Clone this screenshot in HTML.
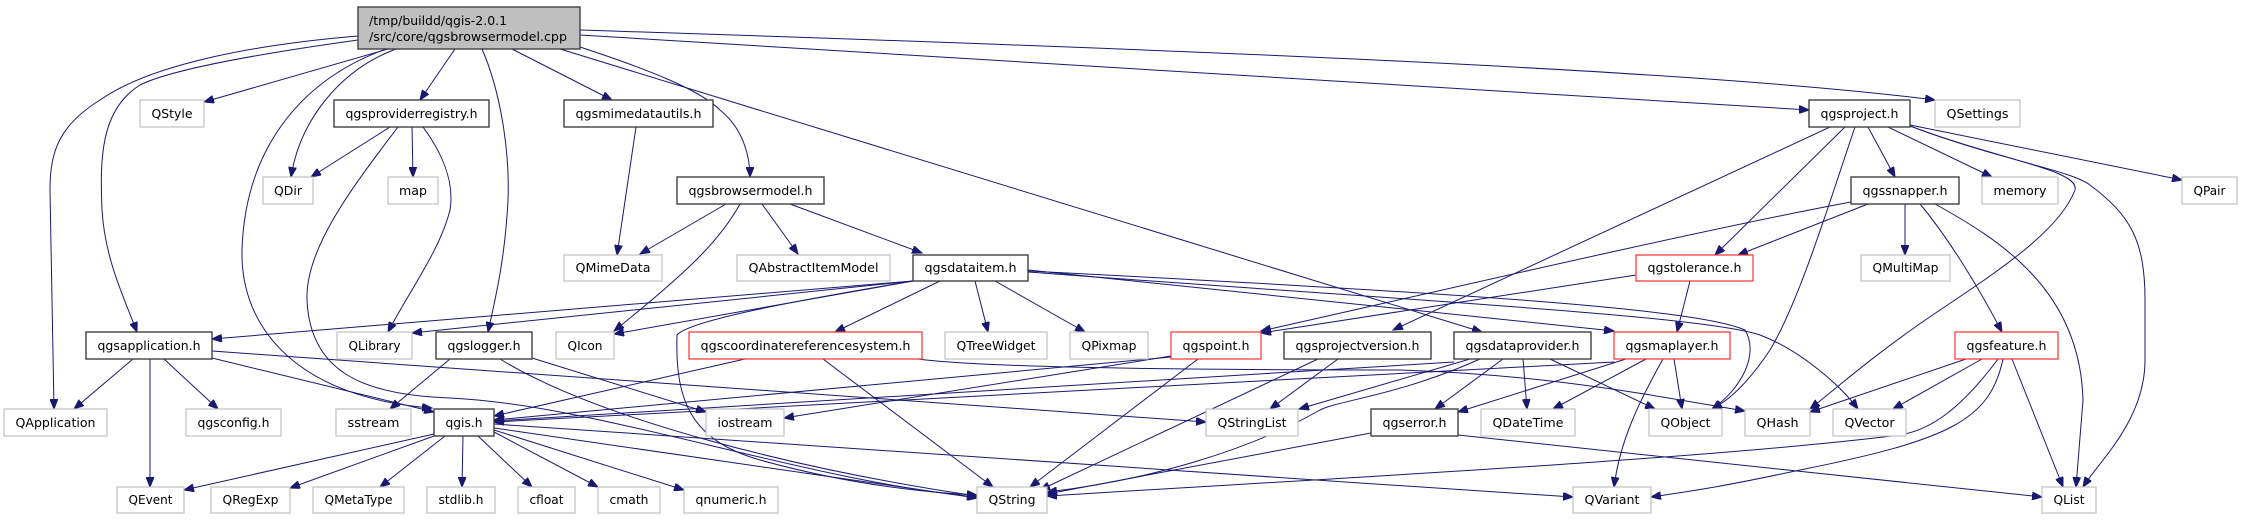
<!DOCTYPE html>
<html><head><meta charset="utf-8"><style>
html,body{margin:0;padding:0;background:#fff;}
svg{display:block;}
text{font-family:"DejaVu Sans","Liberation Sans",sans-serif;font-size:12px;fill:#000;}
.g{fill:#fff;stroke:#c0c0c0;stroke-width:1.2;}
.b{fill:#fff;stroke:#404040;stroke-width:1.4;}
.r{fill:#fff;stroke:#ff3030;stroke-width:1.2;}
.e{fill:none;stroke:#191970;stroke-width:1;marker-end:url(#a);}
</style></head><body>
<svg width="2241" height="520" viewBox="0 0 2241 520" xmlns="http://www.w3.org/2000/svg">
<defs><marker id="a" markerUnits="userSpaceOnUse" markerWidth="11" markerHeight="8" refX="10" refY="4" orient="auto"><path d="M0,0 L10,4 L0,8 z" fill="#191970" stroke="#191970"/></marker></defs>
<g>
<path class="e" d="M358,36 C250,45 150,65 100,100 C60,125 50,150 50,190 L54,409"/>
<path class="e" d="M358,40 C250,55 170,70 140,85 C100,110 100,160 102,210 C105,260 125,300 137,332"/>
<path class="e" d="M388,49 L204,102"/>
<path class="e" d="M396,49 C340,70 300,120 291,177"/>
<path class="e" d="M386,49 C300,80 245,150 242,250 C240,330 300,398 432,408"/>
<path class="e" d="M398,127 C350,190 305,250 307,300 C310,370 360,395 450,398 C600,405 800,480 977,497"/>
<path class="e" d="M390,127 L311,177"/>
<path class="e" d="M412,127 L413,177"/>
<path class="e" d="M423,127 C440,150 455,180 450,210 C440,250 410,290 388,332"/>
<path class="e" d="M455,49 L420,100"/>
<path class="e" d="M482,49 C500,90 510,150 508,200 C505,260 495,300 488,332"/>
<path class="e" d="M512,49 L612,100"/>
<path class="e" d="M580,47 C650,70 700,90 720,110 C745,130 750,160 750,177"/>
<path class="e" d="M560,49 L1482,332"/>
<path class="e" d="M580,35 L1809,110"/>
<path class="e" d="M580,30 C1200,50 1700,70 1935,100"/>
<path class="e" d="M636,127 L617,255"/>
<path class="e" d="M726,204 L640,254"/>
<path class="e" d="M740,204 C720,240 690,270 614,331"/>
<path class="e" d="M762,204 L798,254"/>
<path class="e" d="M790,204 L922,253"/>
<path class="e" d="M913,281 L212,339"/>
<path class="e" d="M913,281 L412,333"/>
<path class="e" d="M913,281 L614,334"/>
<path class="e" d="M913,281 C800,300 690,320 677,335 C675,400 690,440 760,460 C850,485 930,493 977,495"/>
<path class="e" d="M940,281 L835,332"/>
<path class="e" d="M975,281 L988,332"/>
<path class="e" d="M995,281 L1085,332"/>
<path class="e" d="M1028,270 L1614,331"/>
<path class="e" d="M1028,271 C1500,295 1700,310 1745,330 C1760,355 1740,390 1712,409"/>
<path class="e" d="M1028,272 C1400,300 1700,315 1760,335 C1800,350 1840,385 1858,409"/>
<path class="e" d="M745,359 L494,416"/>
<path class="e" d="M823,359 L993,487"/>
<path class="e" d="M918,359 C1000,370 1300,370 1400,370 C1550,375 1650,395 1745,411"/>
<path class="e" d="M133,359 L74,409"/>
<path class="e" d="M150,359 L150,487"/>
<path class="e" d="M164,359 L218,409"/>
<path class="e" d="M212,358 L434,412"/>
<path class="e" d="M212,351 L1206,422"/>
<path class="e" d="M450,359 L390,409"/>
<path class="e" d="M500,359 C600,420 800,470 977,496"/>
<path class="e" d="M532,358 L706,412"/>
<path class="e" d="M434,434 L184,490"/>
<path class="e" d="M434,436 L290,488"/>
<path class="e" d="M445,436 L380,487"/>
<path class="e" d="M463,436 L462,487"/>
<path class="e" d="M478,436 L532,487"/>
<path class="e" d="M494,432 L598,487"/>
<path class="e" d="M494,430 L684,490"/>
<path class="e" d="M494,428 L977,498"/>
<path class="e" d="M494,424 L1360,483 L1573,497"/>
<path class="e" d="M1171,357 L494,420"/>
<path class="e" d="M1171,356 L784,418"/>
<path class="e" d="M1198,359 L1030,487"/>
<path class="e" d="M1338,359 L1270,409"/>
<path class="e" d="M1318,359 L1040,490"/>
<path class="e" d="M1454,362 L494,421"/>
<path class="e" d="M1470,359 L1299,409"/>
<path class="e" d="M1480,359 C1400,395 1340,400 1320,410 C1250,450 1150,480 1047,492"/>
<path class="e" d="M1503,359 L1435,409"/>
<path class="e" d="M1523,359 L1527,409"/>
<path class="e" d="M1550,359 L1655,409"/>
<path class="e" d="M1371,433 L1047,494"/>
<path class="e" d="M1458,435 L2042,497"/>
<path class="e" d="M1614,362 L494,422"/>
<path class="e" d="M1626,359 L1458,412"/>
<path class="e" d="M1646,359 L1553,409"/>
<path class="e" d="M1663,359 C1640,400 1620,440 1614,487"/>
<path class="e" d="M1674,359 L1682,409"/>
<path class="e" d="M1966,359 L1810,412"/>
<path class="e" d="M1982,359 L1893,409"/>
<path class="e" d="M1998,359 C1960,410 1930,430 1900,435 C1700,460 1300,480 1047,496"/>
<path class="e" d="M2003,359 C1990,420 1950,440 1800,470 C1730,485 1700,490 1651,497"/>
<path class="e" d="M2012,359 L2063,487"/>
<path class="e" d="M1830,127 L1393,330"/>
<path class="e" d="M1845,127 L1715,255"/>
<path class="e" d="M1855,127 C1830,200 1800,300 1770,350 C1750,380 1730,400 1712,409"/>
<path class="e" d="M1868,127 L1895,177"/>
<path class="e" d="M1888,127 L1992,177"/>
<path class="e" d="M1910,125 L2182,180"/>
<path class="e" d="M1910,126 C2000,160 2080,170 2075,190 C2060,230 2000,270 1940,310 C1880,350 1840,385 1810,409"/>
<path class="e" d="M1910,126 C2000,160 2070,170 2090,185 C2130,215 2145,240 2145,300 L2145,360 C2145,420 2100,460 2083,487"/>
<path class="e" d="M1868,204 L1738,255"/>
<path class="e" d="M1851,202 C1700,230 1400,300 1261,331"/>
<path class="e" d="M1905,204 L1905,255"/>
<path class="e" d="M1920,204 C1950,240 1980,290 2002,332"/>
<path class="e" d="M1935,204 C2000,240 2080,290 2083,400 L2076,487"/>
<path class="e" d="M1636,275 L1261,333"/>
<path class="e" d="M1690,281 L1677,332"/>
</g>
<g>
<rect x="358" y="7" width="222" height="42" fill="#bfbfbf" stroke="#404040" stroke-width="1.4"/>
<text x="369" y="25" textLength="138" lengthAdjust="spacingAndGlyphs">/tmp/buildd/qgis-2.0.1</text>
<text x="369" y="41" textLength="198" lengthAdjust="spacingAndGlyphs">/src/core/qgsbrowsermodel.cpp</text>

<rect class="g" x="140" y="100" width="64" height="27"/><text x="172" y="118" text-anchor="middle" textLength="41" lengthAdjust="spacingAndGlyphs">QStyle</text>
<rect class="b" x="334" y="100" width="155" height="27"/><text x="411.5" y="118" text-anchor="middle" textLength="132" lengthAdjust="spacingAndGlyphs">qgsproviderregistry.h</text>
<rect class="b" x="564" y="100" width="149" height="27"/><text x="638.5" y="118" text-anchor="middle" textLength="126" lengthAdjust="spacingAndGlyphs">qgsmimedatautils.h</text>
<rect class="b" x="1809" y="100" width="101" height="27"/><text x="1859.5" y="118" text-anchor="middle" textLength="78" lengthAdjust="spacingAndGlyphs">qgsproject.h</text>
<rect class="g" x="1935" y="100" width="85" height="27"/><text x="1977.5" y="118" text-anchor="middle" textLength="62" lengthAdjust="spacingAndGlyphs">QSettings</text>

<rect class="g" x="263" y="177" width="50" height="27"/><text x="288" y="195" text-anchor="middle" textLength="28" lengthAdjust="spacingAndGlyphs">QDir</text>
<rect class="g" x="388" y="177" width="50" height="27"/><text x="413" y="195" text-anchor="middle" textLength="28" lengthAdjust="spacingAndGlyphs">map</text>
<rect class="b" x="677" y="177" width="147" height="27"/><text x="750.5" y="195" text-anchor="middle" textLength="124" lengthAdjust="spacingAndGlyphs">qgsbrowsermodel.h</text>
<rect class="b" x="1851" y="177" width="108" height="27"/><text x="1905" y="195" text-anchor="middle" textLength="85" lengthAdjust="spacingAndGlyphs">qgssnapper.h</text>
<rect class="g" x="1982" y="177" width="76" height="27"/><text x="2020" y="195" text-anchor="middle" textLength="53" lengthAdjust="spacingAndGlyphs">memory</text>
<rect class="g" x="2182" y="177" width="55" height="27"/><text x="2209.5" y="195" text-anchor="middle" textLength="32" lengthAdjust="spacingAndGlyphs">QPair</text>

<rect class="g" x="564" y="255" width="98" height="26"/><text x="613" y="272" text-anchor="middle" textLength="75" lengthAdjust="spacingAndGlyphs">QMimeData</text>
<rect class="g" x="737" y="255" width="153" height="26"/><text x="813.5" y="272" text-anchor="middle" textLength="130" lengthAdjust="spacingAndGlyphs">QAbstractItemModel</text>
<rect class="b" x="913" y="255" width="115" height="26"/><text x="970.5" y="272" text-anchor="middle" textLength="92" lengthAdjust="spacingAndGlyphs">qgsdataitem.h</text>
<rect class="r" x="1636" y="255" width="117" height="26"/><text x="1694.5" y="272" text-anchor="middle" textLength="94" lengthAdjust="spacingAndGlyphs">qgstolerance.h</text>
<rect class="g" x="1861" y="255" width="89" height="26"/><text x="1905.5" y="272" text-anchor="middle" textLength="66" lengthAdjust="spacingAndGlyphs">QMultiMap</text>

<rect class="b" x="86" y="332" width="126" height="27"/><text x="149" y="350" text-anchor="middle" textLength="103" lengthAdjust="spacingAndGlyphs">qgsapplication.h</text>
<rect class="g" x="337" y="332" width="75" height="27"/><text x="374.5" y="350" text-anchor="middle" textLength="52" lengthAdjust="spacingAndGlyphs">QLibrary</text>
<rect class="b" x="436" y="332" width="96" height="27"/><text x="484" y="350" text-anchor="middle" textLength="73" lengthAdjust="spacingAndGlyphs">qgslogger.h</text>
<rect class="g" x="556" y="332" width="58" height="27"/><text x="585" y="350" text-anchor="middle" textLength="35" lengthAdjust="spacingAndGlyphs">QIcon</text>
<rect class="r" x="689" y="332" width="233" height="27"/><text x="805.5" y="350" text-anchor="middle" textLength="210" lengthAdjust="spacingAndGlyphs">qgscoordinatereferencesystem.h</text>
<rect class="g" x="945" y="332" width="102" height="27"/><text x="996" y="350" text-anchor="middle" textLength="79" lengthAdjust="spacingAndGlyphs">QTreeWidget</text>
<rect class="g" x="1070" y="332" width="78" height="27"/><text x="1109" y="350" text-anchor="middle" textLength="55" lengthAdjust="spacingAndGlyphs">QPixmap</text>
<rect class="r" x="1171" y="332" width="90" height="27"/><text x="1216" y="350" text-anchor="middle" textLength="67" lengthAdjust="spacingAndGlyphs">qgspoint.h</text>
<rect class="b" x="1284" y="332" width="147" height="27"/><text x="1357.5" y="350" text-anchor="middle" textLength="124" lengthAdjust="spacingAndGlyphs">qgsprojectversion.h</text>
<rect class="b" x="1454" y="332" width="137" height="27"/><text x="1522.5" y="350" text-anchor="middle" textLength="114" lengthAdjust="spacingAndGlyphs">qgsdataprovider.h</text>
<rect class="r" x="1614" y="332" width="116" height="27"/><text x="1672" y="350" text-anchor="middle" textLength="93" lengthAdjust="spacingAndGlyphs">qgsmaplayer.h</text>
<rect class="r" x="1955" y="332" width="103" height="27"/><text x="2006.5" y="350" text-anchor="middle" textLength="80" lengthAdjust="spacingAndGlyphs">qgsfeature.h</text>

<rect class="g" x="4" y="409" width="103" height="27"/><text x="55.5" y="427" text-anchor="middle" textLength="80" lengthAdjust="spacingAndGlyphs">QApplication</text>
<rect class="g" x="186" y="409" width="95" height="27"/><text x="233.5" y="427" text-anchor="middle" textLength="72" lengthAdjust="spacingAndGlyphs">qgsconfig.h</text>
<rect class="g" x="336" y="409" width="75" height="27"/><text x="373.5" y="427" text-anchor="middle" textLength="52" lengthAdjust="spacingAndGlyphs">sstream</text>
<rect class="b" x="434" y="409" width="60" height="27"/><text x="464" y="427" text-anchor="middle" textLength="37" lengthAdjust="spacingAndGlyphs">qgis.h</text>
<rect class="g" x="706" y="409" width="78" height="27"/><text x="745" y="427" text-anchor="middle" textLength="55" lengthAdjust="spacingAndGlyphs">iostream</text>
<rect class="g" x="1206" y="409" width="92" height="27"/><text x="1252" y="427" text-anchor="middle" textLength="69" lengthAdjust="spacingAndGlyphs">QStringList</text>
<rect class="b" x="1371" y="409" width="87" height="27"/><text x="1414.5" y="427" text-anchor="middle" textLength="64" lengthAdjust="spacingAndGlyphs">qgserror.h</text>
<rect class="g" x="1481" y="409" width="94" height="27"/><text x="1528" y="427" text-anchor="middle" textLength="71" lengthAdjust="spacingAndGlyphs">QDateTime</text>
<rect class="g" x="1649" y="409" width="73" height="27"/><text x="1685.5" y="427" text-anchor="middle" textLength="50" lengthAdjust="spacingAndGlyphs">QObject</text>
<rect class="g" x="1745" y="409" width="65" height="27"/><text x="1777.5" y="427" text-anchor="middle" textLength="42" lengthAdjust="spacingAndGlyphs">QHash</text>
<rect class="g" x="1833" y="409" width="73" height="27"/><text x="1869.5" y="427" text-anchor="middle" textLength="50" lengthAdjust="spacingAndGlyphs">QVector</text>

<rect class="g" x="117" y="487" width="67" height="26"/><text x="150.5" y="504" text-anchor="middle" textLength="44" lengthAdjust="spacingAndGlyphs">QEvent</text>
<rect class="g" x="211" y="487" width="79" height="26"/><text x="250.5" y="504" text-anchor="middle" textLength="56" lengthAdjust="spacingAndGlyphs">QRegExp</text>
<rect class="g" x="313" y="487" width="91" height="26"/><text x="358.5" y="504" text-anchor="middle" textLength="68" lengthAdjust="spacingAndGlyphs">QMetaType</text>
<rect class="g" x="427" y="487" width="68" height="26"/><text x="461" y="504" text-anchor="middle" textLength="45" lengthAdjust="spacingAndGlyphs">stdlib.h</text>
<rect class="g" x="518" y="487" width="57" height="26"/><text x="546.5" y="504" text-anchor="middle" textLength="34" lengthAdjust="spacingAndGlyphs">cfloat</text>
<rect class="g" x="598" y="487" width="62" height="26"/><text x="629" y="504" text-anchor="middle" textLength="39" lengthAdjust="spacingAndGlyphs">cmath</text>
<rect class="g" x="684" y="487" width="94" height="26"/><text x="731" y="504" text-anchor="middle" textLength="71" lengthAdjust="spacingAndGlyphs">qnumeric.h</text>
<rect class="g" x="977" y="487" width="70" height="26"/><text x="1012" y="504" text-anchor="middle" textLength="47" lengthAdjust="spacingAndGlyphs">QString</text>
<rect class="g" x="1573" y="487" width="78" height="26"/><text x="1612" y="504" text-anchor="middle" textLength="55" lengthAdjust="spacingAndGlyphs">QVariant</text>
<rect class="g" x="2042" y="487" width="54" height="26"/><text x="2069" y="504" text-anchor="middle" textLength="31" lengthAdjust="spacingAndGlyphs">QList</text>
</g>
</svg>
</body></html>
